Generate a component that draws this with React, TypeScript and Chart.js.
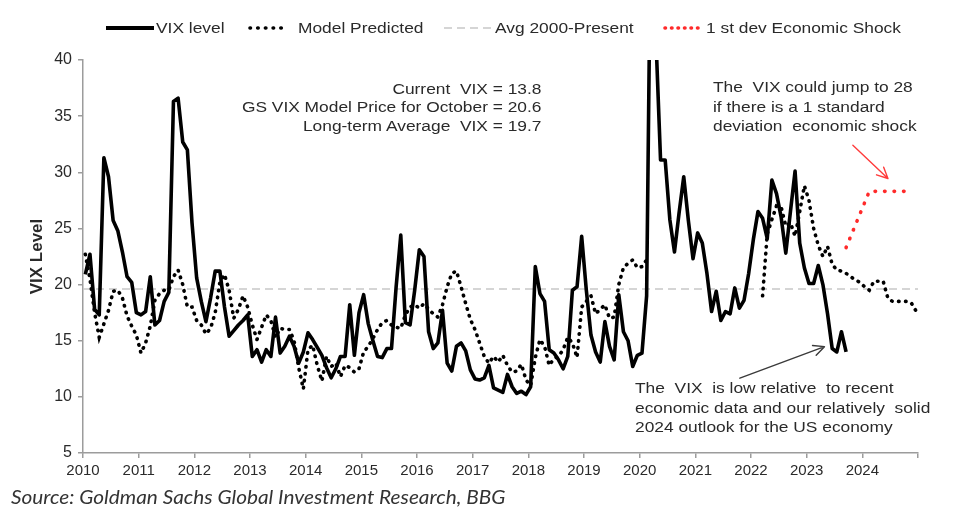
import React, { useEffect, useRef } from "react";
import { Chart, registerables } from "chart.js";

Chart.register(...registerables);

// ---------- axis settings ----------
const START_YEAR = 2010;
const END_YEAR = 2025;
const Y_MIN = 5;
const Y_MAX = 40;
const Y_STEP = 5;
const AVG_2000_PRESENT = 19.6;

// ---------- monthly series (Jan 2010 onward) ----------
const VIX_LEVEL: number[] = [
  // 2010
  20.9, 22.7, 17.8, 17.3, 31.3, 29.6, 25.7, 24.8, 22.9, 20.7, 20.2, 17.5,
  // 2011
  17.3, 17.6, 20.7, 16.4, 16.8, 18.5, 19.3, 36.3, 36.6, 32.7, 32.0, 25.5,
  // 2012
  20.6, 18.5, 16.7, 18.8, 21.2, 21.2, 18.0, 15.4, 15.9, 16.4, 16.8, 17.3,
  // 2013
  13.6, 14.2, 13.1, 14.2, 13.6, 17.1, 13.9, 14.5, 15.4, 14.5, 13.0, 14.0,
  // 2014
  15.7, 15.1, 14.4, 13.7, 12.6, 11.7, 12.5, 13.6, 13.6, 18.2, 13.7, 17.5,
  // 2015
  19.1, 16.5, 15.0, 13.6, 13.5, 14.3, 14.3, 19.8, 24.4, 16.6, 16.4, 19.5,
  // 2016
  23.1, 22.5, 15.8, 14.3, 14.8, 17.7, 13.0, 12.3, 14.5, 14.8, 14.1, 12.4,
  // 2017
  11.6, 11.5, 11.7, 12.8, 10.8, 10.6, 10.4, 12.0, 10.9, 10.3, 10.5, 10.2,
  // 2018
  10.9, 21.6, 19.2, 18.5, 14.2, 13.9, 13.3, 12.5, 13.6, 19.5, 19.8, 24.3,
  // 2019
  19.5, 15.5, 14.0, 13.1, 16.7, 14.5, 13.3, 19.1, 15.8, 15.0, 12.7, 13.7,
  // 2020
  13.9, 19.0, 57.0, 42.0, 31.1, 31.1, 25.8, 22.9, 26.4, 29.6, 25.7, 22.3,
  // 2021
  24.6, 23.7, 21.0, 17.6, 19.4, 16.8, 17.6, 17.4, 19.7, 17.9, 18.6, 21.0,
  // 2022
  24.0, 26.5, 25.9, 24.1, 29.3, 28.1, 26.0, 22.8, 26.5, 30.1, 23.7, 21.5,
  // 2023
  20.1, 20.1, 21.7, 20.0, 17.4, 14.3, 14.0, 15.8, 14.0,
];

const MODEL_PREDICTED: (number | null)[] = [
  // 2010
  22.7, 20.5, 17.5, 15.3, 16.5, 17.7, 19.4, 19.5, 18.8, 17.2, 16.3, 15.5,
  // 2011
  13.9, 14.8, 16.3, 18.6, 19.2, 19.5, 19.5, 20.7, 21.3, 20.0, 18.0, 18.0,
  // 2012
  16.8, 16.4, 15.6, 16.1, 17.5, 20.2, 20.9, 19.5, 17.0, 17.8, 19.0, 18.0,
  // 2013
  16.4, 15.1, 16.2, 17.3, 16.8, 15.3, 16.1, 16.0, 16.0, 15.0, 12.6, 10.7,
  // 2014
  14.2, 14.6, 12.8, 11.4, 13.6, 12.7, 13.0, 11.8, 12.8, 12.6, 12.2, 12.5,
  // 2015
  14.0, 14.5, 15.2, 16.0, 16.6, 16.8, 16.4, 16.2, 16.1, 17.3, 18.0, 18.2,
  // 2016
  17.9, 18.3, 17.8, 17.4, 17.1, 18.2, 19.8, 21.0, 21.2, 19.8, 18.3, 16.9,
  // 2017
  16.0, 14.8, 13.6, 13.0, 13.6, 13.1, 13.7, 12.8, 12.2, 12.3, 12.9, 11.5,
  // 2018
  11.0, 13.5, 15.1, 14.5, 12.8, 13.4, 13.6, 14.2, 15.3, 14.8, 13.5, 18.0,
  // 2019
  18.5, 19.0, 17.4, 17.8, 18.2, 17.0, 17.1, 20.0, 21.5, 21.9, 22.2, 21.5,
  // 2020
  21.6, 22.2, null, null, null, null, null, null, null, null, null, null,
  // 2021
  null, null, null, null, null, null, null, null, null, null, null, null,
  // 2022
  null, null, 19.0, 24.5, 25.8, 27.0, 26.9, 25.2, 25.5, 24.3, 26.5, 28.8,
  // 2023
  27.5, 25.0, 23.5, 22.5, 23.4, 21.8, 21.3, 21.2, 21.0, 20.7, 20.4, 20.2,
  // 2024
  19.8, 19.5, 20.3, 20.3, 20.3, 18.8, 18.5, 18.5, 18.5, 18.5, 18.4, 17.7,
];

// 1 st dev economic shock path, starting Sep 2023
const SHOCK_START_INDEX = 164;
const ECONOMIC_SHOCK: number[] = [
  23.3, 24.3, 25.3, 26.3, 27.3, 28.3, 28.3, 28.3, 28.3, 28.3, 28.3, 28.3, 28.3, 28.3, 28.3,
];

// ---------- text ----------
const LEGEND_LABELS = ["VIX level", "Model Predicted", "Avg 2000-Present", "1 st dev Economic Shock"];
const Y_TITLE = "VIX Level";
const NOTE_STATS = [
  "Current  VIX = 13.8",
  "GS VIX Model Price for October = 20.6",
  "Long-term Average  VIX = 19.7",
];
const NOTE_SHOCK = ["The  VIX could jump to 28", "if there is a 1 standard", "deviation  economic shock"];
const NOTE_LOW = [
  "The  VIX  is low relative  to recent",
  "economic data and our relatively  solid",
  "2024 outlook for the US economy",
];
const SOURCE_TEXT = "Source: Goldman Sachs Global Investment Research, BBG";

// annotation arrows in data coordinates [year, VIX]
const ARROWS = [
  { from: [2023.83, 32.4], to: [2024.46, 29.45], color: "#ff3b3b", width: 1.4 },
  { from: [2021.8, 11.66], to: [2023.32, 14.47], color: "#3a3a3a", width: 1.4 },
];

const FONT = '"Liberation Sans", Arial, Helvetica, sans-serif';
const TEXT_COLOR = "#2a2a2a";
const AXIS_COLOR = "#9c9c9c";

const monthX = (i: number) => START_YEAR + (i + 0.5) / 12;

export default function App() {
  const canvasRef = useRef<HTMLCanvasElement | null>(null);

  useEffect(() => {
    const canvas = canvasRef.current;
    if (!canvas) return;

    const arrowPlugin = {
      id: "noteArrows",
      afterDatasetsDraw(chart: any) {
        const { ctx } = chart;
        const xs = chart.scales.x;
        const ys = chart.scales.y;
        for (const a of ARROWS) {
          const x1 = xs.getPixelForValue(a.from[0]);
          const y1 = ys.getPixelForValue(a.from[1]);
          const x2 = xs.getPixelForValue(a.to[0]);
          const y2 = ys.getPixelForValue(a.to[1]);
          const ang = Math.atan2(y2 - y1, x2 - x1);
          const L = 12;
          const spread = 0.45;
          ctx.save();
          ctx.strokeStyle = a.color;
          ctx.lineWidth = a.width;
          ctx.lineCap = "round";
          ctx.lineJoin = "round";
          ctx.beginPath();
          ctx.moveTo(x1, y1);
          ctx.lineTo(x2, y2);
          ctx.moveTo(x2 - L * Math.cos(ang - spread), y2 - L * Math.sin(ang - spread));
          ctx.lineTo(x2, y2);
          ctx.lineTo(x2 - L * Math.cos(ang + spread), y2 - L * Math.sin(ang + spread));
          ctx.stroke();
          ctx.restore();
        }
      },
    };

    const chart = new Chart(canvas, {
      type: "line",
      data: {
        datasets: [
          {
            label: LEGEND_LABELS[0],
            data: VIX_LEVEL.map((v, i) => ({ x: monthX(i), y: v })),
            borderColor: "#000000",
            borderWidth: 3.6,
            pointRadius: 0,
            tension: 0,
            borderJoinStyle: "round",
          },
          {
            label: LEGEND_LABELS[1],
            data: MODEL_PREDICTED.map((v, i) => ({ x: monthX(i), y: v })),
            borderColor: "#000000",
            borderWidth: 3.6,
            borderDash: [0.5, 6.5],
            borderCapStyle: "round",
            pointRadius: 0,
            tension: 0,
            spanGaps: false,
          },
          {
            label: LEGEND_LABELS[2],
            data: [
              { x: START_YEAR, y: AVG_2000_PRESENT },
              { x: END_YEAR, y: AVG_2000_PRESENT },
            ],
            borderColor: "#c8c8c8",
            borderWidth: 1.5,
            borderDash: [8, 5],
            pointRadius: 0,
          },
          {
            label: LEGEND_LABELS[3],
            data: ECONOMIC_SHOCK.map((v, i) => ({ x: monthX(SHOCK_START_INDEX + i), y: v })),
            borderColor: "#ff2a2a",
            borderWidth: 3.6,
            borderDash: [0.5, 9],
            borderCapStyle: "round",
            pointRadius: 0,
            tension: 0,
          },
        ],
      },
      options: {
        animation: false,
        responsive: false,
        maintainAspectRatio: false,
        parsing: true,
        layout: { padding: { top: 60, right: 47, bottom: 0, left: 0 } },
        plugins: {
          legend: { display: false },
          tooltip: { enabled: false },
          title: { display: false },
        },
        scales: {
          x: {
            type: "linear",
            min: START_YEAR,
            max: END_YEAR,
            afterFit: (s: any) => {
              s.height = 77;
            },
            ticks: {
              stepSize: 1,
              autoSkip: false,
              maxRotation: 0,
              padding: 4,
              color: TEXT_COLOR,
              font: { family: FONT, size: 15 },
              callback: (v: any) => (Number(v) < END_YEAR ? String(v) : ""),
            },
            grid: {
              drawOnChartArea: false,
              drawTicks: true,
              tickLength: 5,
              color: AXIS_COLOR,
              lineWidth: 1.5,
            },
            border: { display: true, color: AXIS_COLOR, width: 1.5 },
          },
          y: {
            type: "linear",
            min: Y_MIN,
            max: Y_MAX,
            afterFit: (s: any) => {
              s.width = 83;
            },
            ticks: {
              stepSize: Y_STEP,
              padding: 6,
              color: TEXT_COLOR,
              font: { family: FONT, size: 16 },
            },
            grid: {
              drawOnChartArea: false,
              drawTicks: true,
              tickLength: 5,
              color: AXIS_COLOR,
              lineWidth: 1.5,
            },
            border: { display: true, color: AXIS_COLOR, width: 1.5 },
            title: {
              display: true,
              text: Y_TITLE,
              color: TEXT_COLOR,
              font: { family: FONT, size: 17, weight: "bold" },
              padding: { top: 27, bottom: 0 },
            },
          },
        },
      } as any,
      plugins: [arrowPlugin],
    });

    return () => chart.destroy();
  }, []);

  const textBase: React.CSSProperties = {
    position: "absolute",
    fontFamily: FONT,
    fontSize: 15.5,
    color: TEXT_COLOR,
    whiteSpace: "pre",
    pointerEvents: "none",
  };

  const legendText = (left: number, label: string) => (
    <div
      style={{
        ...textBase,
        left,
        top: 18,
        lineHeight: "20px",
        transform: "scaleX(1.12)",
        transformOrigin: "left center",
      }}
    >
      {label}
    </div>
  );

  const legendLine = (left: number, width: number, stroke: string, sw: number, dash?: string, cap?: string) => (
    <svg
      style={{ position: "absolute", left, top: 20, pointerEvents: "none" }}
      width={width}
      height={16}
    >
      <line
        x1={cap === "round" ? 2 : 0}
        y1={8}
        x2={cap === "round" ? width - 2 : width}
        y2={8}
        stroke={stroke}
        strokeWidth={sw}
        strokeDasharray={dash}
        strokeLinecap={cap as any}
      />
    </svg>
  );

  const block = (
    lines: string[],
    style: React.CSSProperties,
    lineHeight: number,
    align: "left" | "right"
  ) => (
    <div
      style={{
        ...textBase,
        ...style,
        lineHeight: `${lineHeight}px`,
        textAlign: align,
        transform: "scaleX(1.12)",
        transformOrigin: align === "right" ? "right top" : "left top",
      }}
    >
      {lines.map((l, i) => (
        <div key={i}>{l}</div>
      ))}
    </div>
  );

  return (
    <div
      style={{
        position: "absolute",
        left: 0,
        top: 0,
        width: 965,
        height: 530,
        background: "#ffffff",
        overflow: "hidden",
      }}
    >
      <canvas ref={canvasRef} width={965} height={530} style={{ position: "absolute", left: 0, top: 0 }} />

      {legendLine(106, 48, "#000", 4)}
      {legendText(156, LEGEND_LABELS[0])}
      {legendLine(248, 40, "#000", 3.6, "0.5 7.2", "round")}
      {legendText(298, LEGEND_LABELS[1])}
      {legendLine(444, 48, "#c8c8c8", 1.5, "8 5")}
      {legendText(495, LEGEND_LABELS[2])}
      {legendLine(663, 38, "#ff2a2a", 3.6, "0.5 6", "round")}
      {legendText(706, LEGEND_LABELS[3])}

      {block(NOTE_STATS, { right: 965 - 541, top: 80 }, 18.3, "right")}
      {block(NOTE_SHOCK, { left: 713, top: 77 }, 19.6, "left")}
      {block(NOTE_LOW, { left: 635, top: 378 }, 19.7, "left")}

      <div
        style={{
          position: "absolute",
          left: 11,
          top: 483,
          fontFamily: "Lato, 'Open Sans', sans-serif",
          fontStyle: "italic",
          fontSize: 20,
          lineHeight: "26px",
          color: "#333",
          whiteSpace: "pre",
          transform: "scaleX(1.04)",
          transformOrigin: "left top",
        }}
      >
        {SOURCE_TEXT}
      </div>
    </div>
  );
}
